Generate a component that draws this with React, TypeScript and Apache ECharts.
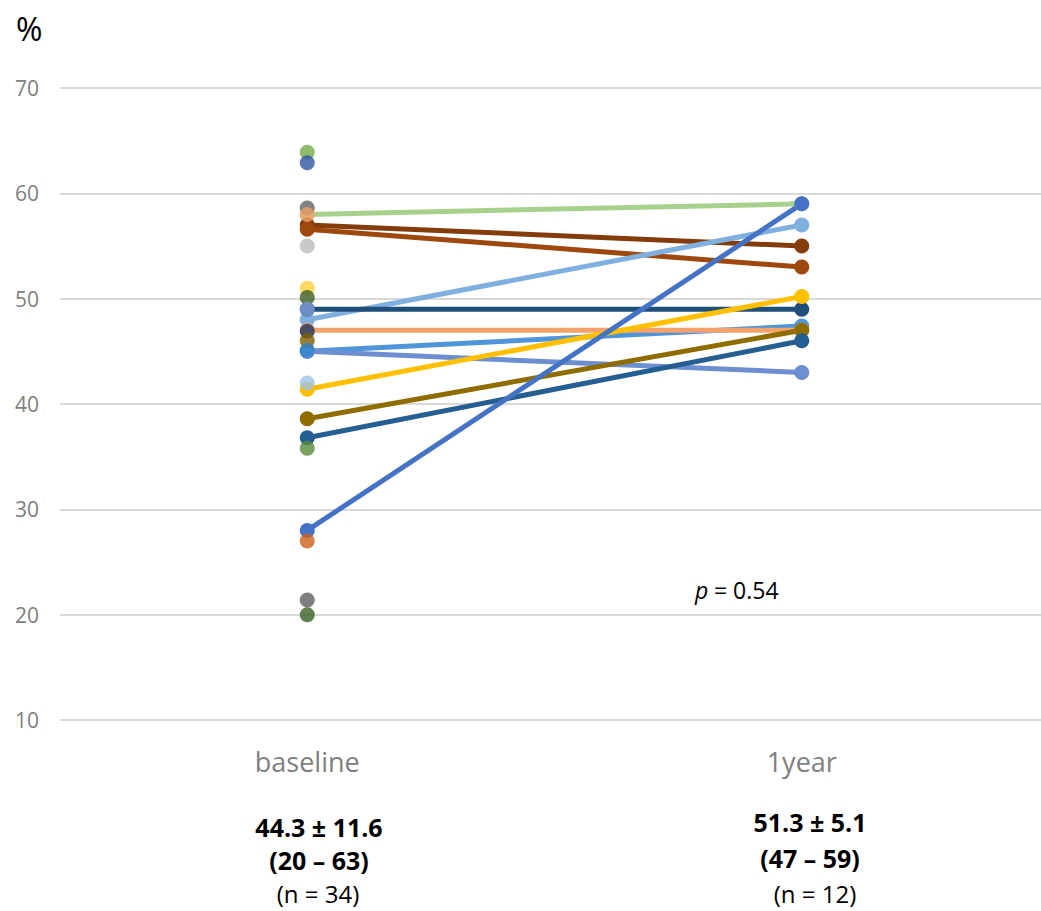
import React, { useEffect, useRef } from "react";
import * as echarts from "echarts";

const categories = ["baseline", "1year"];
const yTicks = [10, 20, 30, 40, 50, 60, 70];

// paired patients (baseline -> 1year)
const pairedBaseline = [58.0, 57.0, 56.6, 48.0, 49.0, 45.0, 47.0, 45.0, 41.4, 38.6, 36.8, 28.0];
const pairedYear1 = [59.0, 55.0, 53.0, 57.0, 49.0, 47.4, 47.0, 43.0, 50.2, 47.0, 46.0, 59.0];
const pairedColors = [
  "#a9d18e", "#843c0c", "#9e480e", "#7fb0e0", "#1f4e79", "#4e95d9",
  "#f4a26c", "#6c8fd2", "#ffc000", "#8f6c00", "#255e91", "#4472c4",
];

// baseline-only patients
const baselineOnly = [63.9, 62.9, 58.6, 58.0, 55.0, 51.0, 50.1, 49.0, 46.9, 46.0, 45.1, 42.0, 35.8, 27.0, 21.4, 20.0];
const baselineOnlyColors = [
  "#70ad47", "#2f55a4", "#636363", "#f4a26c", "#bcbcbc", "#ffd03a", "#3d5f26", "#7f9fd8",
  "#203864", "#7f6000", "#3284cc", "#9dc3e6", "#5a8a3a", "#d0601a", "#5f5f5f", "#3a5f24",
];

const statsBaseline = ["44.3 ± 11.6", "(20 – 63)", "(n = 34)"];
const statsYear1 = ["51.3 ± 5.1", "(47 – 59)", "(n = 12)"];
const pText = " = 0.54";

export default function App() {
  const ref = useRef<HTMLDivElement>(null);
  useEffect(() => {
    const chart = echarts.init(ref.current!, null, { renderer: "svg" });
    const font = "'Open Sans', 'Noto Sans', sans-serif";
    const lineSeries = pairedBaseline.map((b, i) => ({
      type: "line",
      data: [[categories[0], b], [categories[1], pairedYear1[i]]],
      symbol: "circle",
      symbolSize: 15,
      lineStyle: { width: 5, color: pairedColors[i] },
      itemStyle: { color: pairedColors[i] },
      z: 2,
    }));
    const scatterSeries = {
      type: "scatter",
      symbolSize: 15,
      z: 3,
      data: baselineOnly.map((v, i) => ({
        value: [categories[0], v],
        itemStyle: { color: baselineOnlyColors[i] },
      })),
    };
    const txt = (x: number, y: number, text: string, size: number, bold: boolean) => ({
      type: "text",
      x,
      y,
      style: {
        text,
        fontSize: size,
        fontWeight: bold ? "bold" : "normal",
        fill: "#000",
        textAlign: "center",
        textVerticalAlign: "middle",
        fontFamily: font,
      },
    });
    chart.setOption({
      animation: false,
      grid: { left: 60, right: 0, top: 88, bottom: 191 },
      xAxis: {
        type: "category",
        data: categories,
        axisLine: { show: false },
        axisTick: { show: false },
        axisLabel: { color: "#7f7f7f", fontSize: 27, margin: 28, fontFamily: font },
      },
      yAxis: {
        type: "value",
        min: yTicks[0],
        max: yTicks[yTicks.length - 1],
        interval: 10,
        axisLine: { show: false },
        axisTick: { show: false },
        axisLabel: { color: "#7f7f7f", fontSize: 21, margin: 21, fontFamily: font },
        splitLine: { lineStyle: { color: "#d9d9d9", width: 2 } },
      },
      series: [...lineSeries, scatterSeries],
      graphic: [
        { type: "text", x: 16, y: 28, style: { text: "%", fontSize: 32, fill: "#000", textVerticalAlign: "middle", fontFamily: font } },
        txt(319, 827, statsBaseline[0], 25, true),
        txt(319, 860, statsBaseline[1], 25, true),
        txt(318, 893, statsBaseline[2], 24, false),
        txt(810, 822, statsYear1[0], 25, true),
        txt(810, 858, statsYear1[1], 25, true),
        txt(815, 893, statsYear1[2], 24, false),
        {
          type: "text", x: 695, y: 590,
          style: { text: "p", fontSize: 23, fontStyle: "italic", fill: "#000", textVerticalAlign: "middle", fontFamily: font },
        },
        {
          type: "text", x: 708, y: 590,
          style: { text: pText, fontSize: 23, fill: "#000", textVerticalAlign: "middle", fontFamily: font },
        },
      ],
    });
    return () => chart.dispose();
  }, []);
  return (
    <div style={{ position: "absolute", left: 0, top: 0, width: 1041, height: 911, overflow: "hidden", background: "#fff" }}>
      <div ref={ref} style={{ width: 1049, height: 911 }} />
    </div>
  );
}
